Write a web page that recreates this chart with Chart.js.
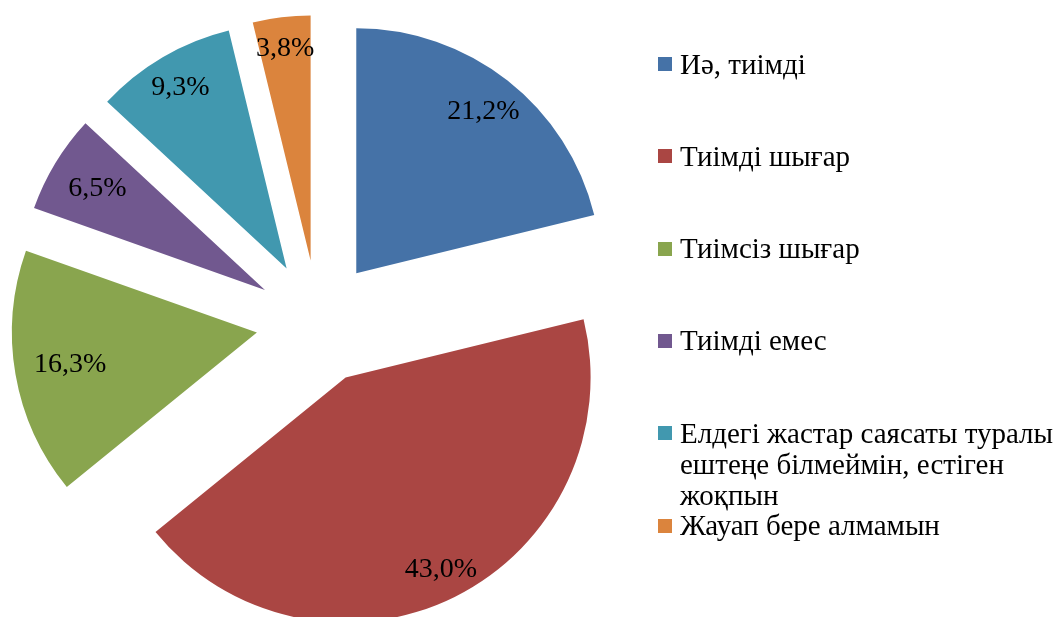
<!DOCTYPE html>
<html>
<head>
<meta charset="utf-8">
<script src="https://cdn.jsdelivr.net/npm/chart.js@4.4.0/dist/chart.umd.min.js"></script>
<style>
  body { margin: 0; background: #fff; }
  .wrap { position: relative; width: 1059px; height: 617px; overflow: hidden; }
  #myChart { position: absolute; left: 0; top: 0; }
  .leyenda { position: absolute; left: 0; top: 0; font-family: "Liberation Serif", "Times New Roman", serif; font-size: 29px; line-height: 31px; color: #000; }
  .item { position: absolute; left: 680px; width: 379px; }
  .cuadro { position: absolute; left: 658px; width: 14px; height: 14px; }
</style>
</head>
<body>
<div class="wrap">
  <canvas id="myChart" width="1059" height="617"></canvas>
  <div class="leyenda"></div>
</div>
<script>
const etiquetas = [
  'Иә, тиімді',
  'Тиімді шығар',
  'Тиімсіз шығар',
  'Тиімді емес',
  'Елдегі жастар саясаты туралы ештеңе білмеймін, естіген жоқпын',
  'Жауап бере алмамын'
]
const porcentajes = [21.2, 43.0, 16.3, 6.5, 9.3, 3.8]
const colores = ['#4572A7', '#AA4643', '#89A54E', '#71588F', '#4198AF', '#DB843D']

// how far out each slice is pulled, and where its label sits (fraction of radius)
const separacion = 62
const posEtiqueta = [0.84, 0.874, 0.774, 0.80, 0.857, 0.87]

const explotar = {
  id: 'explotar',
  afterDatasetUpdate(chart, args) {
    for (const arco of args.meta.data) {
      const medio = (arco.startAngle + arco.endAngle) / 2
      arco.x += Math.cos(medio) * separacion
      arco.y += Math.sin(medio) * separacion
    }
  }
}

const textos = {
  id: 'textos',
  afterDatasetsDraw(chart) {
    const ctx = chart.ctx
    const meta = chart.getDatasetMeta(0)
    ctx.save()
    ctx.font = '28px "Liberation Serif"'
    ctx.fillStyle = '#000'
    ctx.textAlign = 'center'
    ctx.textBaseline = 'middle'
    meta.data.forEach((arco, i) => {
      const medio = (arco.startAngle + arco.endAngle) / 2
      const r = arco.outerRadius * posEtiqueta[i]
      const texto = porcentajes[i].toFixed(1).replace('.', ',') + '%'
      ctx.fillText(texto, arco.x + Math.cos(medio) * r, arco.y + Math.sin(medio) * r)
    })
    ctx.restore()
  }
}

const $grafica = document.getElementById('myChart')
const myChart = new Chart($grafica, {
  type: 'pie',
  data: {
    labels: etiquetas,
    datasets: [{
      data: porcentajes,
      backgroundColor: colores,
      borderWidth: 0,
      clip: false
    }]
  },
  options: {
    responsive: false,
    animation: false,
    events: [],
    radius: 245,
    layout: { padding: { top: 27, right: 423, bottom: 0, left: 0 } },
    plugins: {
      legend: { display: false },
      tooltip: { enabled: false }
    }
  },
  plugins: [explotar, textos]
})

const leyenda = document.querySelector('.leyenda')
for (let i = 0; i < etiquetas.length; i++) {
  const centro = 64 + i * 92.3
  const cuadro = document.createElement('div')
  cuadro.className = 'cuadro'
  cuadro.style.top = (centro - 7) + 'px'
  cuadro.style.background = colores[i]
  const texto = document.createElement('div')
  texto.className = 'item'
  texto.style.top = (centro - 15.5) + 'px'
  texto.textContent = etiquetas[i]
  leyenda.appendChild(cuadro)
  leyenda.appendChild(texto)
}
</script>
</body>
</html>
